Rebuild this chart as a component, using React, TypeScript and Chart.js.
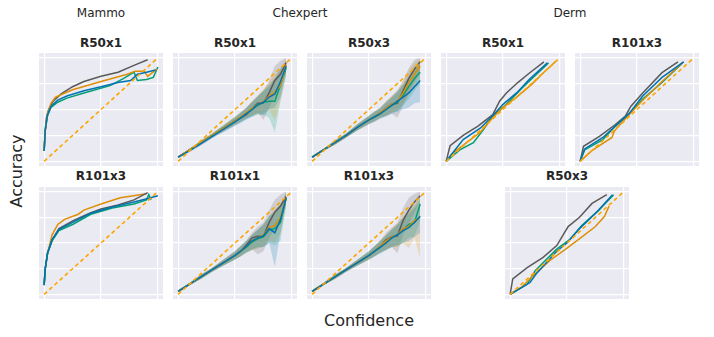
import React, { useEffect, useRef } from "react";
import { Chart, registerables } from "chart.js";
Chart.register(...registerables);

// ---------- style constants ----------
const C_BLUE = "#0173B2";
const C_ORANGE = "#DE8F05";
const C_GREEN = "#029E73";
const C_GRAY = "#5a5a5a";
const C_DIAG = "#FFA500";
const BG = "#EAEAF2";
const FONT = "'DejaVu Sans', sans-serif";

const X_TICKS = [0, 0.5, 1];
const Y_TICKS = [0, 0.25, 0.5, 0.75, 1];
const DIAG_X = [0, 1];
const DIAG_Y = [0, 1];

// ---------- Mammo R50x1 ----------
const M1_GRAY_X = [0, 0.01, 0.02, 0.04, 0.08, 0.15, 0.25, 0.35, 0.5, 0.65, 0.8, 0.91];
const M1_GRAY_Y = [0.1, 0.3, 0.42, 0.5, 0.58, 0.65, 0.72, 0.77, 0.82, 0.86, 0.93, 0.98];
const M1_ORANGE_X = [0, 0.01, 0.03, 0.06, 0.1, 0.25, 0.5, 0.73, 0.8, 0.88, 0.91, 0.99];
const M1_ORANGE_Y = [0.1, 0.3, 0.46, 0.56, 0.62, 0.69, 0.77, 0.84, 0.87, 0.87, 0.82, 0.89];
const M1_BLUE_X = [0, 0.01, 0.03, 0.06, 0.12, 0.2, 0.35, 0.5, 0.65, 0.76, 0.82, 0.9, 0.98];
const M1_BLUE_Y = [0.1, 0.3, 0.45, 0.53, 0.59, 0.63, 0.68, 0.72, 0.76, 0.78, 0.84, 0.86, 0.88];
const M1_GREEN_X = [0, 0.01, 0.03, 0.06, 0.12, 0.2, 0.35, 0.58, 0.7, 0.79, 0.82, 0.9, 0.96, 1.0];
const M1_GREEN_Y = [0.1, 0.3, 0.44, 0.52, 0.57, 0.61, 0.66, 0.73, 0.8, 0.86, 0.78, 0.79, 0.81, 0.91];

// ---------- Mammo R101x3 ----------
const M2_ORANGE_X = [0, 0.01, 0.03, 0.07, 0.12, 0.18, 0.3, 0.35, 0.5, 0.67, 0.9];
const M2_ORANGE_Y = [0.09, 0.25, 0.4, 0.58, 0.68, 0.73, 0.78, 0.82, 0.88, 0.94, 0.98];
const M2_GRAY_X = [0, 0.01, 0.03, 0.07, 0.13, 0.26, 0.4, 0.5, 0.65, 0.79, 0.91];
const M2_GRAY_Y = [0.09, 0.25, 0.4, 0.53, 0.64, 0.72, 0.79, 0.83, 0.87, 0.92, 0.99];
const M2_BLUE_X = [0, 0.01, 0.03, 0.07, 0.13, 0.25, 0.41, 0.6, 0.79, 0.92, 1.0];
const M2_BLUE_Y = [0.09, 0.25, 0.4, 0.53, 0.63, 0.7, 0.79, 0.85, 0.9, 0.935, 0.96];
const M2_GREEN_X = [0, 0.01, 0.03, 0.07, 0.13, 0.25, 0.41, 0.6, 0.79, 0.9, 0.92, 0.94];
const M2_GREEN_Y = [0.09, 0.25, 0.4, 0.52, 0.62, 0.68, 0.78, 0.84, 0.88, 0.92, 0.97, 0.92];

// ---------- Chexpert (shared confidence bins) ----------
const CX = [0, 0.1, 0.2, 0.3, 0.4, 0.5, 0.55, 0.6, 0.65, 0.7, 0.75, 0.8, 0.85, 0.9, 0.95];

// Chexpert R50x1
const C1_GRAY = [0.04, 0.11, 0.18, 0.25, 0.32, 0.39, 0.42, 0.45, 0.51, 0.56, 0.565, 0.66, 0.78, 0.84, 0.95];
const C1_GRAY_LO = [0.03, 0.1, 0.16, 0.23, 0.29, 0.35, 0.38, 0.41, 0.44, 0.47, 0.4, 0.52, 0.62, 0.7, 0.88];
const C1_GRAY_HI = [0.05, 0.12, 0.2, 0.27, 0.35, 0.43, 0.47, 0.52, 0.58, 0.63, 0.68, 0.78, 0.92, 0.97, 1.0];
const C1_BLUE = [0.04, 0.1, 0.17, 0.24, 0.31, 0.38, 0.42, 0.46, 0.5, 0.55, 0.57, 0.62, 0.65, 0.77, 0.92];
const C1_BLUE_LO = [0.03, 0.09, 0.15, 0.22, 0.28, 0.34, 0.37, 0.4, 0.43, 0.46, 0.45, 0.5, 0.52, 0.62, 0.85];
const C1_BLUE_HI = [0.05, 0.11, 0.19, 0.26, 0.34, 0.42, 0.47, 0.52, 0.57, 0.63, 0.68, 0.74, 0.8, 0.9, 0.98];
const C1_GREEN = [0.04, 0.11, 0.18, 0.25, 0.32, 0.39, 0.42, 0.46, 0.5, 0.54, 0.57, 0.58, 0.58, 0.74, 0.9];
const C1_GREEN_LO = [0.03, 0.1, 0.16, 0.23, 0.29, 0.35, 0.38, 0.41, 0.43, 0.45, 0.45, 0.42, 0.28, 0.58, 0.82];
const C1_GREEN_HI = [0.05, 0.12, 0.2, 0.27, 0.35, 0.43, 0.47, 0.51, 0.57, 0.62, 0.68, 0.72, 0.8, 0.88, 0.97];
const C1_ORANGE = [0.04, 0.11, 0.18, 0.25, 0.32, 0.39, 0.43, 0.47, 0.51, 0.55, 0.58, 0.63, 0.67, 0.73, 0.93];
const C1_ORANGE_LO = [0.03, 0.1, 0.16, 0.23, 0.29, 0.35, 0.39, 0.42, 0.44, 0.46, 0.47, 0.5, 0.4, 0.6, 0.85];
const C1_ORANGE_HI = [0.05, 0.12, 0.2, 0.27, 0.35, 0.43, 0.47, 0.52, 0.58, 0.64, 0.7, 0.76, 0.84, 0.88, 0.98];

// Chexpert R50x3
const C2_GRAY = [0.04, 0.11, 0.18, 0.25, 0.33, 0.4, 0.43, 0.47, 0.51, 0.55, 0.56, 0.68, 0.8, 0.89, 0.96];
const C2_GRAY_LO = [0.03, 0.1, 0.16, 0.23, 0.3, 0.36, 0.39, 0.42, 0.44, 0.46, 0.42, 0.54, 0.66, 0.76, 0.88];
const C2_GRAY_HI = [0.05, 0.12, 0.2, 0.27, 0.36, 0.44, 0.48, 0.52, 0.58, 0.63, 0.68, 0.78, 0.9, 0.98, 1.0];
const C2_BLUE = [0.04, 0.11, 0.18, 0.25, 0.33, 0.4, 0.43, 0.46, 0.5, 0.54, 0.58, 0.62, 0.66, 0.72, 0.78];
const C2_BLUE_LO = [0.03, 0.1, 0.16, 0.23, 0.3, 0.36, 0.38, 0.41, 0.43, 0.46, 0.48, 0.5, 0.52, 0.56, 0.57];
const C2_BLUE_HI = [0.05, 0.12, 0.2, 0.27, 0.36, 0.44, 0.48, 0.52, 0.57, 0.62, 0.68, 0.74, 0.8, 0.88, 0.95];
const C2_GREEN = [0.04, 0.11, 0.18, 0.25, 0.33, 0.4, 0.43, 0.46, 0.5, 0.54, 0.57, 0.64, 0.72, 0.8, 0.86];
const C2_GREEN_LO = [0.03, 0.1, 0.16, 0.23, 0.3, 0.36, 0.39, 0.42, 0.44, 0.47, 0.48, 0.54, 0.6, 0.68, 0.75];
const C2_GREEN_HI = [0.05, 0.12, 0.2, 0.27, 0.36, 0.44, 0.48, 0.51, 0.56, 0.61, 0.66, 0.74, 0.84, 0.92, 0.97];
const C2_ORANGE = [0.04, 0.11, 0.18, 0.25, 0.33, 0.4, 0.43, 0.47, 0.51, 0.55, 0.58, 0.66, 0.76, 0.84, 0.92];
const C2_ORANGE_LO = [0.03, 0.1, 0.16, 0.23, 0.3, 0.36, 0.39, 0.42, 0.44, 0.47, 0.5, 0.55, 0.64, 0.72, 0.84];
const C2_ORANGE_HI = [0.05, 0.12, 0.2, 0.27, 0.36, 0.44, 0.48, 0.52, 0.58, 0.63, 0.68, 0.77, 0.88, 0.95, 0.99];

// Chexpert R101x1
const C3_GRAY = [0.03, 0.1, 0.17, 0.24, 0.31, 0.38, 0.42, 0.48, 0.55, 0.565, 0.565, 0.7, 0.8, 0.86, 0.95];
const C3_GRAY_LO = [0.02, 0.09, 0.15, 0.22, 0.28, 0.34, 0.37, 0.41, 0.44, 0.39, 0.42, 0.55, 0.64, 0.72, 0.88];
const C3_GRAY_HI = [0.04, 0.11, 0.19, 0.26, 0.34, 0.42, 0.47, 0.53, 0.6, 0.66, 0.7, 0.82, 0.92, 0.97, 1.0];
const C3_BLUE = [0.03, 0.1, 0.17, 0.24, 0.31, 0.38, 0.42, 0.47, 0.52, 0.55, 0.57, 0.64, 0.6, 0.73, 0.94];
const C3_BLUE_LO = [0.02, 0.09, 0.15, 0.22, 0.28, 0.34, 0.37, 0.41, 0.44, 0.46, 0.46, 0.5, 0.27, 0.6, 0.88];
const C3_BLUE_HI = [0.04, 0.11, 0.19, 0.26, 0.34, 0.42, 0.47, 0.52, 0.58, 0.63, 0.68, 0.76, 0.8, 0.86, 0.99];
const C3_GREEN = [0.03, 0.1, 0.17, 0.24, 0.31, 0.38, 0.42, 0.46, 0.51, 0.54, 0.56, 0.63, 0.64, 0.7, 0.94];
const C3_GREEN_LO = [0.02, 0.09, 0.15, 0.22, 0.28, 0.34, 0.37, 0.4, 0.43, 0.45, 0.46, 0.5, 0.48, 0.52, 0.86];
const C3_GREEN_HI = [0.04, 0.11, 0.19, 0.26, 0.34, 0.42, 0.47, 0.52, 0.58, 0.63, 0.68, 0.76, 0.82, 0.88, 0.99];
const C3_ORANGE = [0.03, 0.1, 0.17, 0.24, 0.31, 0.38, 0.42, 0.47, 0.52, 0.55, 0.58, 0.65, 0.67, 0.75, 0.93];
const C3_ORANGE_LO = [0.02, 0.09, 0.15, 0.22, 0.28, 0.34, 0.37, 0.41, 0.43, 0.45, 0.47, 0.52, 0.5, 0.6, 0.86];
const C3_ORANGE_HI = [0.04, 0.11, 0.19, 0.26, 0.34, 0.42, 0.47, 0.52, 0.58, 0.63, 0.68, 0.76, 0.82, 0.88, 0.99];

// Chexpert R101x3
const C4_GRAY = [0.03, 0.1, 0.17, 0.24, 0.31, 0.38, 0.42, 0.47, 0.53, 0.56, 0.57, 0.72, 0.82, 0.9, 0.96];
const C4_GRAY_LO = [0.02, 0.09, 0.15, 0.22, 0.28, 0.34, 0.37, 0.41, 0.44, 0.46, 0.4, 0.58, 0.68, 0.8, 0.9];
const C4_GRAY_HI = [0.04, 0.11, 0.19, 0.26, 0.34, 0.42, 0.47, 0.53, 0.6, 0.65, 0.7, 0.84, 0.94, 0.98, 1.0];
const C4_BLUE = [0.03, 0.1, 0.17, 0.24, 0.31, 0.38, 0.42, 0.46, 0.5, 0.55, 0.58, 0.62, 0.65, 0.7, 0.76];
const C4_BLUE_LO = [0.02, 0.09, 0.15, 0.22, 0.28, 0.34, 0.37, 0.4, 0.43, 0.46, 0.48, 0.5, 0.52, 0.56, 0.6];
const C4_BLUE_HI = [0.04, 0.11, 0.19, 0.26, 0.34, 0.42, 0.47, 0.52, 0.57, 0.63, 0.68, 0.74, 0.78, 0.84, 0.9];
const C4_GREEN = [0.03, 0.1, 0.17, 0.24, 0.31, 0.38, 0.42, 0.46, 0.51, 0.55, 0.58, 0.63, 0.68, 0.7, 0.88];
const C4_GREEN_LO = [0.02, 0.09, 0.15, 0.22, 0.28, 0.34, 0.37, 0.4, 0.43, 0.46, 0.47, 0.5, 0.55, 0.56, 0.72];
const C4_GREEN_HI = [0.04, 0.11, 0.19, 0.26, 0.34, 0.42, 0.47, 0.52, 0.58, 0.63, 0.68, 0.75, 0.82, 0.86, 0.97];
const C4_ORANGE = [0.03, 0.1, 0.17, 0.24, 0.31, 0.38, 0.42, 0.47, 0.52, 0.56, 0.58, 0.64, 0.66, 0.72, 0.75];
const C4_ORANGE_LO = [0.02, 0.09, 0.15, 0.22, 0.28, 0.34, 0.37, 0.41, 0.43, 0.46, 0.46, 0.5, 0.45, 0.55, 0.35];
const C4_ORANGE_HI = [0.04, 0.11, 0.19, 0.26, 0.34, 0.42, 0.47, 0.53, 0.58, 0.64, 0.69, 0.76, 0.8, 0.86, 0.92];

// ---------- Derm R50x1 ----------
const D1_GRAY_X = [0, 0.035, 0.15, 0.28, 0.41, 0.47, 0.53, 0.63, 0.73, 0.86];
const D1_GRAY_Y = [0, 0.15, 0.25, 0.34, 0.45, 0.58, 0.66, 0.76, 0.85, 0.96];
const D1_BLUE_X = [0, 0.15, 0.3, 0.41, 0.5, 0.62, 0.73, 0.89];
const D1_BLUE_Y = [0, 0.21, 0.32, 0.44, 0.55, 0.66, 0.79, 0.95];
const D1_GREEN_X = [0, 0.12, 0.24, 0.33, 0.41, 0.53, 0.67, 0.9];
const D1_GREEN_Y = [0, 0.11, 0.18, 0.31, 0.44, 0.55, 0.71, 0.95];
const D1_ORANGE_X = [0, 0.06, 0.18, 0.3, 0.41, 0.5, 0.62, 0.75, 0.86, 0.96];
const D1_ORANGE_Y = [0, 0.08, 0.18, 0.28, 0.42, 0.52, 0.62, 0.74, 0.86, 0.96];

// ---------- Derm R101x3 ----------
const D2_GRAY_X = [0, 0.03, 0.17, 0.31, 0.4, 0.445, 0.55, 0.72, 0.86];
const D2_GRAY_Y = [0, 0.145, 0.24, 0.355, 0.44, 0.53, 0.66, 0.855, 0.96];
const D2_BLUE_X = [0, 0.04, 0.2, 0.31, 0.43, 0.55, 0.72, 0.91];
const D2_BLUE_Y = [0, 0.12, 0.23, 0.34, 0.46, 0.63, 0.81, 0.96];
const D2_GREEN_X = [0, 0.04, 0.2, 0.31, 0.43, 0.55, 0.72, 0.9];
const D2_GREEN_Y = [0, 0.11, 0.21, 0.34, 0.46, 0.6, 0.76, 0.95];
const D2_ORANGE_X = [0, 0.1, 0.28, 0.3, 0.33, 0.43, 0.55, 0.72, 0.91];
const D2_ORANGE_Y = [0, 0.1, 0.23, 0.29, 0.33, 0.45, 0.59, 0.77, 0.96];

// ---------- Derm R50x3 ----------
const D3_GRAY_X = [0, 0.023, 0.15, 0.29, 0.41, 0.51, 0.61, 0.72, 0.85];
const D3_GRAY_Y = [0, 0.15, 0.26, 0.36, 0.475, 0.66, 0.75, 0.885, 0.97];
const D3_BLUE_X = [0, 0.175, 0.23, 0.41, 0.5, 0.61, 0.76, 0.9];
const D3_BLUE_Y = [0, 0.115, 0.2, 0.42, 0.5, 0.64, 0.8, 0.97];
const D3_GREEN_X = [0, 0.15, 0.22, 0.41, 0.52, 0.63, 0.78, 0.91];
const D3_GREEN_Y = [0, 0.1, 0.23, 0.44, 0.53, 0.67, 0.82, 0.97];
const D3_ORANGE_X = [0, 0.1, 0.22, 0.35, 0.5, 0.62, 0.75, 0.83, 0.87];
const D3_ORANGE_Y = [0, 0.07, 0.2, 0.33, 0.45, 0.55, 0.66, 0.76, 0.86];

// ---------- helpers ----------
type Line = { x: number[]; y: number[]; color: string };
type Band = { x: number[]; lo: number[]; hi: number[]; color: string };

const pts = (xs: number[], ys: number[]) => xs.map((x, i) => ({ x, y: ys[i] }));

function rgba(hex: string, a: number) {
  const n = parseInt(hex.slice(1), 16);
  return `rgba(${(n >> 16) & 255},${(n >> 8) & 255},${n & 255},${a})`;
}

const bgPlugin = {
  id: "bgfill",
  beforeDraw(chart: any) {
    const { ctx, chartArea } = chart;
    if (!chartArea) return;
    ctx.save();
    ctx.fillStyle = BG;
    ctx.fillRect(chartArea.left, chartArea.top, chartArea.width, chartArea.height);
    ctx.restore();
  },
};

function Panel(props: { left: number; top: number; width: number; height: number; lines: Line[]; bands?: Band[] }) {
  const ref = useRef<HTMLCanvasElement>(null);
  const { left, top, width, height, lines, bands = [] } = props;
  useEffect(() => {
    if (!ref.current) return;
    const datasets: any[] = [];
    datasets.push({
      data: pts(DIAG_X, DIAG_Y),
      borderColor: C_DIAG,
      borderWidth: 1.6,
      borderDash: [4, 3],
      pointRadius: 0,
      fill: false,
      order: 0,
    });
    lines.forEach((l, i) => {
      datasets.push({
        data: pts(l.x, l.y),
        borderColor: l.color,
        borderWidth: 1.5,
        pointRadius: 0,
        fill: false,
        order: 1 + i,
      });
    });
    bands.forEach((b) => {
      datasets.push({
        data: pts(b.x, b.lo),
        borderWidth: 0,
        borderColor: "rgba(0,0,0,0)",
        pointRadius: 0,
        fill: false,
        order: 20,
      });
      datasets.push({
        data: pts(b.x, b.hi),
        borderWidth: 0,
        borderColor: "rgba(0,0,0,0)",
        backgroundColor: rgba(b.color, 0.2),
        pointRadius: 0,
        fill: "-1",
        order: 20,
      });
    });
    const axis = (ticks: number[]) => ({
      type: "linear" as const,
      min: -0.045,
      max: 1.045,
      ticks: { display: false },
      grid: { color: "#ffffff", lineWidth: 1.2, drawTicks: false },
      border: { display: false },
      afterBuildTicks: (a: any) => {
        a.ticks = ticks.map((v) => ({ value: v }));
      },
    });
    const chart = new Chart(ref.current, {
      type: "line",
      data: { datasets },
      options: {
        responsive: false,
        animation: false,
        devicePixelRatio: 1,
        layout: { padding: 0 },
        plugins: { legend: { display: false }, tooltip: { enabled: false }, title: { display: false } },
        elements: { line: { tension: 0 } },
        scales: { x: axis(X_TICKS), y: axis(Y_TICKS) },
      } as any,
      plugins: [bgPlugin],
    });
    return () => chart.destroy();
  }, []);
  return (
    <canvas
      ref={ref}
      width={width}
      height={height}
      style={{ position: "absolute", left, top, width, height }}
    />
  );
}

function Label(props: { x: number; y: number; text: string; size: number; bold?: boolean; rotate?: boolean }) {
  const { x, y, text, size, bold, rotate } = props;
  return (
    <div
      style={{
        position: "absolute",
        left: x,
        top: y,
        transform: `translate(-50%, -50%)${rotate ? " rotate(-90deg)" : ""}`,
        fontFamily: FONT,
        fontSize: size,
        fontWeight: bold ? "bold" : "normal",
        color: "#262626",
        whiteSpace: "nowrap",
        lineHeight: 1,
      }}
    >
      {text}
    </div>
  );
}

const chexLines = (g: number[], b: number[], gr: number[], o: number[]): Line[] => [
  { x: CX, y: b, color: C_BLUE },
  { x: CX, y: o, color: C_ORANGE },
  { x: CX, y: gr, color: C_GREEN },
  { x: CX, y: g, color: C_GRAY },
];

const PW = 124;
const ROW1 = 53;
const ROW2 = 187;
const PH1 = 113;
const PH2 = 112;
const COLS = [39, 173, 307, 441, 575];
const DERM3_LEFT = 505;

export default function App() {
  return (
    <div style={{ position: "absolute", left: 0, top: 0, width: 714, height: 337, background: "#fff", overflow: "hidden" }}>
      <Label x={101} y={13} text="Mammo" size={12} />
      <Label x={300} y={13} text="Chexpert" size={12} />
      <Label x={570} y={13} text="Derm" size={12} />

      <Label x={101} y={43} text="R50x1" size={12} bold />
      <Label x={235} y={43} text="R50x1" size={12} bold />
      <Label x={369} y={43} text="R50x3" size={12} bold />
      <Label x={503} y={43} text="R50x1" size={12} bold />
      <Label x={637} y={43} text="R101x3" size={12} bold />

      <Label x={101} y={176} text="R101x3" size={12} bold />
      <Label x={235} y={176} text="R101x1" size={12} bold />
      <Label x={369} y={176} text="R101x3" size={12} bold />
      <Label x={567} y={176} text="R50x3" size={12} bold />

      <Label x={17} y={171} text="Accuracy" size={16} rotate />
      <Label x={369} y={321} text="Confidence" size={16} />

      <Panel
        left={COLS[0]} top={ROW1} width={PW} height={PH1}
        lines={[
          { x: M1_BLUE_X, y: M1_BLUE_Y, color: C_BLUE },
          { x: M1_ORANGE_X, y: M1_ORANGE_Y, color: C_ORANGE },
          { x: M1_GREEN_X, y: M1_GREEN_Y, color: C_GREEN },
          { x: M1_GRAY_X, y: M1_GRAY_Y, color: C_GRAY },
        ]}
      />
      <Panel
        left={COLS[1]} top={ROW1} width={PW} height={PH1}
        lines={chexLines(C1_GRAY, C1_BLUE, C1_GREEN, C1_ORANGE)}
        bands={[
          { x: CX, lo: C1_BLUE_LO, hi: C1_BLUE_HI, color: C_BLUE },
          { x: CX, lo: C1_ORANGE_LO, hi: C1_ORANGE_HI, color: C_ORANGE },
          { x: CX, lo: C1_GREEN_LO, hi: C1_GREEN_HI, color: C_GREEN },
          { x: CX, lo: C1_GRAY_LO, hi: C1_GRAY_HI, color: C_GRAY },
        ]}
      />
      <Panel
        left={COLS[2]} top={ROW1} width={PW} height={PH1}
        lines={chexLines(C2_GRAY, C2_BLUE, C2_GREEN, C2_ORANGE)}
        bands={[
          { x: CX, lo: C2_BLUE_LO, hi: C2_BLUE_HI, color: C_BLUE },
          { x: CX, lo: C2_ORANGE_LO, hi: C2_ORANGE_HI, color: C_ORANGE },
          { x: CX, lo: C2_GREEN_LO, hi: C2_GREEN_HI, color: C_GREEN },
          { x: CX, lo: C2_GRAY_LO, hi: C2_GRAY_HI, color: C_GRAY },
        ]}
      />
      <Panel
        left={COLS[3]} top={ROW1} width={PW} height={PH1}
        lines={[
          { x: D1_BLUE_X, y: D1_BLUE_Y, color: C_BLUE },
          { x: D1_ORANGE_X, y: D1_ORANGE_Y, color: C_ORANGE },
          { x: D1_GREEN_X, y: D1_GREEN_Y, color: C_GREEN },
          { x: D1_GRAY_X, y: D1_GRAY_Y, color: C_GRAY },
        ]}
      />
      <Panel
        left={COLS[4]} top={ROW1} width={PW} height={PH1}
        lines={[
          { x: D2_BLUE_X, y: D2_BLUE_Y, color: C_BLUE },
          { x: D2_ORANGE_X, y: D2_ORANGE_Y, color: C_ORANGE },
          { x: D2_GREEN_X, y: D2_GREEN_Y, color: C_GREEN },
          { x: D2_GRAY_X, y: D2_GRAY_Y, color: C_GRAY },
        ]}
      />

      <Panel
        left={COLS[0]} top={ROW2} width={PW} height={PH2}
        lines={[
          { x: M2_BLUE_X, y: M2_BLUE_Y, color: C_BLUE },
          { x: M2_GREEN_X, y: M2_GREEN_Y, color: C_GREEN },
          { x: M2_GRAY_X, y: M2_GRAY_Y, color: C_GRAY },
          { x: M2_ORANGE_X, y: M2_ORANGE_Y, color: C_ORANGE },
        ]}
      />
      <Panel
        left={COLS[1]} top={ROW2} width={PW} height={PH2}
        lines={chexLines(C3_GRAY, C3_BLUE, C3_GREEN, C3_ORANGE)}
        bands={[
          { x: CX, lo: C3_BLUE_LO, hi: C3_BLUE_HI, color: C_BLUE },
          { x: CX, lo: C3_ORANGE_LO, hi: C3_ORANGE_HI, color: C_ORANGE },
          { x: CX, lo: C3_GREEN_LO, hi: C3_GREEN_HI, color: C_GREEN },
          { x: CX, lo: C3_GRAY_LO, hi: C3_GRAY_HI, color: C_GRAY },
        ]}
      />
      <Panel
        left={COLS[2]} top={ROW2} width={PW} height={PH2}
        lines={chexLines(C4_GRAY, C4_BLUE, C4_GREEN, C4_ORANGE)}
        bands={[
          { x: CX, lo: C4_BLUE_LO, hi: C4_BLUE_HI, color: C_BLUE },
          { x: CX, lo: C4_ORANGE_LO, hi: C4_ORANGE_HI, color: C_ORANGE },
          { x: CX, lo: C4_GREEN_LO, hi: C4_GREEN_HI, color: C_GREEN },
          { x: CX, lo: C4_GRAY_LO, hi: C4_GRAY_HI, color: C_GRAY },
        ]}
      />
      <Panel
        left={DERM3_LEFT} top={ROW2} width={PW} height={PH2}
        lines={[
          { x: D3_BLUE_X, y: D3_BLUE_Y, color: C_BLUE },
          { x: D3_ORANGE_X, y: D3_ORANGE_Y, color: C_ORANGE },
          { x: D3_GREEN_X, y: D3_GREEN_Y, color: C_GREEN },
          { x: D3_GRAY_X, y: D3_GRAY_Y, color: C_GRAY },
        ]}
      />
    </div>
  );
}
